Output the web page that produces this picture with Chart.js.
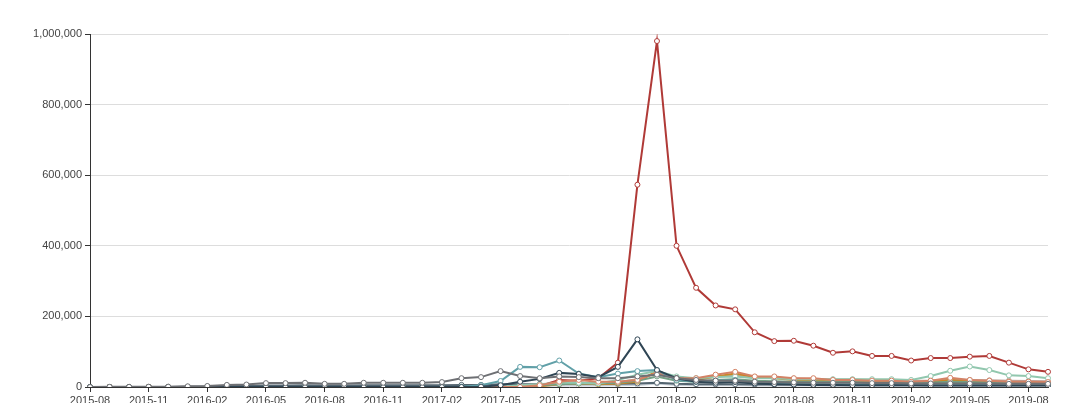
<!DOCTYPE html>
<html>
<head>
<meta charset="utf-8">
<script src="https://cdn.jsdelivr.net/npm/chart.js@4/dist/chart.umd.min.js"></script>
<style>
html,body{margin:0;padding:0;background:#fff;overflow:hidden;}
#wrap{position:absolute;left:0;top:0;width:1080px;height:431px;}
</style>
</head>
<body>
<div id="wrap"><canvas id="c" width="1080" height="431"></canvas></div>
<script>
const months = [
 "2015-08","2015-09","2015-10","2015-11","2015-12",
 "2016-01","2016-02","2016-03","2016-04","2016-05","2016-06","2016-07","2016-08","2016-09","2016-10","2016-11","2016-12",
 "2017-01","2017-02","2017-03","2017-04","2017-05","2017-06","2017-07","2017-08","2017-09","2017-10","2017-11","2017-12",
 "2018-01","2018-02","2018-03","2018-04","2018-05","2018-06","2018-07","2018-08","2018-09","2018-10","2018-11","2018-12",
 "2019-01","2019-02","2019-03","2019-04","2019-05","2019-06","2019-07","2019-08","2019-09"
];

const seriesRed = [0,0,0,0,0, 0,0,0,0,0,0,0,0,0,0,0,0,
  0,0,0,0,0,0,3000,20000,18000,25000,69000,573000,
  980000,400000,281000,231000,220000,155000,130000,131000,117000,97000,101000,88000,
  88000,75000,82000,82000,86000,88000,69000,50000,43000];
const seriesDark = [0,0,0,0,0, 0,0,0,0,0,0,0,0,0,0,0,0,
  0,0,0,1000,5000,15000,23000,40000,37000,28000,57000,135000,
  48000,25000,15000,12000,14000,10000,8000,7000,6000,6000,5000,5000,
  5000,5000,4000,4000,4000,4000,4000,4000,4000];
const seriesTeal = [0,0,0,0,0, 0,0,0,0,0,0,0,0,0,0,0,0,
  0,0,1000,5000,17000,57000,56000,75000,38000,28000,38000,45000,
  48000,20000,15000,18000,20000,12000,10000,9000,9000,8000,8000,8000,
  8000,7000,7000,8000,8000,7000,7000,6000,6000];
const seriesOrange = [0,0,0,0,0, 0,0,0,0,0,0,0,0,0,0,0,0,
  0,0,0,0,0,0,5000,15000,20000,15000,15000,20000,
  40000,25000,25000,35000,43000,30000,30000,25000,25000,20000,20000,18000,
  18000,15000,18000,26000,20000,18000,15000,15000,14000];
const seriesLightGreen = [0,0,0,0,0, 0,0,0,0,0,0,0,0,0,0,0,0,
  0,0,0,0,0,5000,8000,12000,12000,10000,20000,35000,
  45000,30000,25000,28000,30000,25000,25000,22000,22000,22000,22000,22000,
  22000,20000,31000,46000,58000,48000,33000,31000,25000];
const seriesGreenGray = [0,0,0,0,0, 0,0,0,0,0,0,0,0,0,0,0,0,
  0,0,0,0,0,2000,5000,8000,10000,10000,12000,18000,
  30000,18000,15000,20000,22000,18000,16000,15000,15000,14000,14000,13000,
  13000,12000,13000,15000,14000,13000,12000,12000,11000];
const seriesYellow = [0,0,0,0,0, 0,0,0,0,0,0,0,0,0,0,0,0,
  0,0,0,0,0,0,2000,8000,10000,8000,10000,15000,
  45000,25000,20000,30000,38000,28000,25000,20000,18000,16000,15000,15000,
  14000,13000,14000,20000,16000,15000,14000,13000,12000];
const seriesTan = [0,0,0,0,0, 0,0,0,0,0,0,0,0,0,0,0,0,
  0,0,0,0,0,0,3000,10000,12000,12000,14000,22000,
  40000,28000,22000,28000,34000,26000,27000,24000,22000,21000,21000,20000,
  20000,18000,18000,22000,20000,19000,18000,17000,16000];
const seriesGray = [0,500,500,800,1000, 2000,3000,6000,7000,11000,11000,12000,9000,9000,12000,12000,12000,
  12000,14000,25000,28000,45000,31000,25000,30000,28000,25000,25000,30000,
  35000,25000,20000,18000,18000,15000,14000,13000,12000,12000,12000,11000,
  11000,10000,10000,10000,10000,10000,9000,9000,9000];
const seriesSlate = [0,0,0,0,0, 500,1000,3000,3000,4000,4000,5000,4000,4000,5000,5000,5000,
  5000,5000,6000,6000,8000,8000,8000,10000,10000,9000,9000,10000,
  12000,9000,8000,8000,8000,7000,7000,7000,6000,6000,6000,6000,
  6000,6000,6000,6000,6000,6000,6000,6000,6000];
const seriesSilver = [0,0,0,0,0, 0,0,0,0,0,0,0,0,0,0,0,0,
  0,0,0,0,1000,2000,3000,4000,4000,4000,5000,6000,
  10000,6000,5000,5000,5000,4000,4000,4000,4000,3000,3000,3000,
  3000,3000,3000,3000,3000,3000,3000,3000,3000];

const yTicks = [0,200000,400000,600000,800000,1000000];

function ds(data, color, order){
  return {data, order, borderColor: color, backgroundColor: color, borderWidth: 2,
    pointRadius: 2.5, pointBorderWidth: 1, pointBackgroundColor: '#fff', pointBorderColor: color,
    tension: 0, fill: false};
}

new Chart(document.getElementById('c'), {
  type: 'line',
  data: {
    labels: months,
    datasets: [
      ds(seriesRed, '#b03a37', 20),
      ds(seriesDark, '#2f4554', 1),
      ds(seriesTeal, '#61a0a8', 2),
      ds(seriesOrange, '#d48265', 3),
      ds(seriesLightGreen, '#91c7ae', 4),
      ds(seriesGreenGray, '#749f83', 5),
      ds(seriesYellow, '#ca8622', 6),
      ds(seriesTan, '#bda29a', 7),
      ds(seriesGray, '#6e7074', 0),
      ds(seriesSlate, '#546570', 8),
      ds(seriesSilver, '#c4ccd3', 9)
    ]
  },
  options: {
    responsive: false,
    animation: false,
    layout: {padding: {top: 34, right: 32, left: 0, bottom: 0}},
    plugins: {legend: {display: false}, tooltip: {enabled: false}, title: {display: false}},
    scales: {
      x: {
        offset: false,
        border: {color: '#333', width: 1},
        grid: {drawOnChartArea: false, drawTicks: true, tickLength: 5,
          tickColor: (ctx) => (ctx.index % 3 === 0 ? '#333' : 'rgba(0,0,0,0)')},
        ticks: {autoSkip: false, maxRotation: 0, minRotation: 0, padding: 2,
          color: '#444', font: {family: 'Liberation Sans, Arial, sans-serif', size: 11},
          callback: function(v, i){ return i % 3 === 0 ? months[i] : ''; }},
        afterFit: (s) => { s.height = 44; }
      },
      y: {
        min: 0, max: 1000000,
        border: {color: '#333', width: 1},
        grid: {color: '#dddddd', tickColor: '#333', tickLength: 5, lineWidth: 1},
        afterBuildTicks: (s) => { s.ticks = yTicks.map(v => ({value: v})); },
        ticks: {padding: 3, color: '#444', font: {family: 'Liberation Sans, Arial, sans-serif', size: 11},
          callback: (v) => Number(v).toLocaleString('en-US')},
        afterFit: (s) => { s.width = 90; }
      }
    }
  }
});
</script>
</body>
</html>
